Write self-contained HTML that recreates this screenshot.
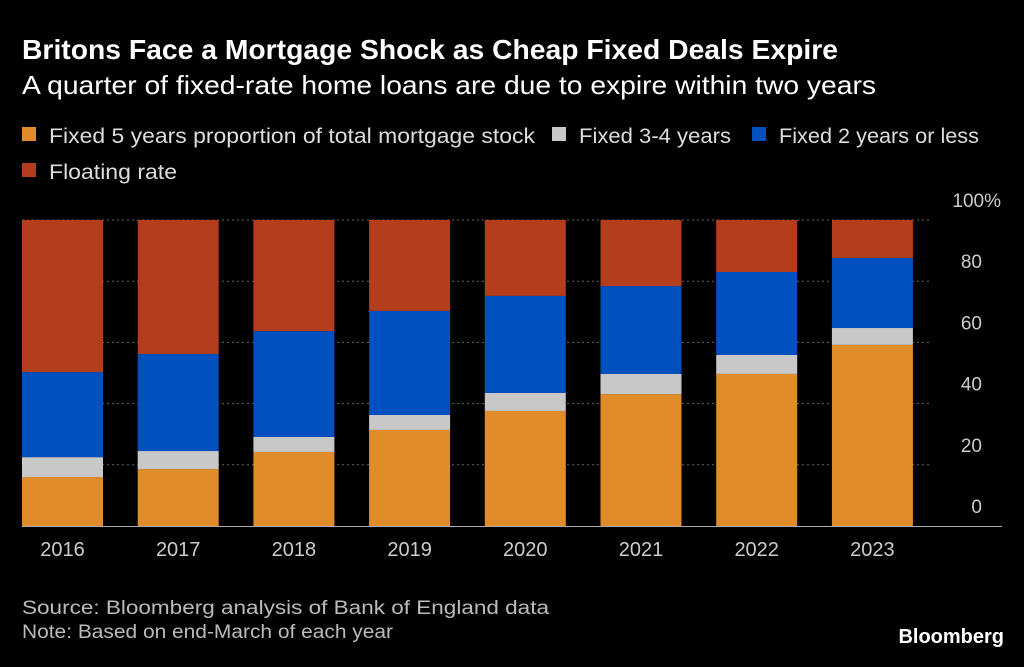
<!DOCTYPE html>
<html><head><meta charset="utf-8"><style>
body{margin:0;background:#000;width:1024px;height:662px;overflow:hidden;font-family:"Liberation Sans",sans-serif;color:#fff}
</style></head><body>
<svg width="1024" height="662" xmlns="http://www.w3.org/2000/svg">
<rect width="1024" height="662" fill="#000"/>
<text x="22" y="59" font-size="28" font-weight="bold" fill="#fff" textLength="816" lengthAdjust="spacingAndGlyphs">Britons Face a Mortgage Shock as Cheap Fixed Deals Expire</text>
<text x="22" y="94" font-size="26" fill="#fff" textLength="854" lengthAdjust="spacingAndGlyphs">A quarter of fixed-rate home loans are due to expire within two years</text>
<g font-size="21" fill="#ddd">
<rect x="22" y="127" width="14" height="14" fill="#e08c2a"/>
<text x="49" y="143" textLength="486" lengthAdjust="spacingAndGlyphs">Fixed 5 years proportion of total mortgage stock</text>
<rect x="552" y="127" width="14" height="14" fill="#c8c8c8"/>
<text x="579" y="143" textLength="152" lengthAdjust="spacingAndGlyphs">Fixed 3-4 years</text>
<rect x="752" y="127" width="14" height="14" fill="#0050c0"/>
<text x="779" y="143" textLength="200" lengthAdjust="spacingAndGlyphs">Fixed 2 years or less</text>
<rect x="22" y="163" width="14" height="14" fill="#b33d1d"/>
<text x="49" y="179" textLength="128" lengthAdjust="spacingAndGlyphs">Floating rate</text>
</g>
<g id="grid"></g><g id="bars"></g><g id="labels"></g>
<text x="22" y="614" font-size="19" fill="#bbb" textLength="527" lengthAdjust="spacingAndGlyphs">Source: Bloomberg analysis of Bank of England data</text>
<text x="22" y="638" font-size="19" fill="#bbb" textLength="371" lengthAdjust="spacingAndGlyphs">Note: Based on end-March of each year</text>
<text x="1004" y="643" font-size="20" font-weight="bold" fill="#fff" text-anchor="end">Bloomberg</text>
</svg>
<script>
const categories=["2016","2017","2018","2019","2020","2021","2022","2023"];
const fixed5=[16,18.6,24.2,31.4,37.6,43.1,49.7,59.2];
const fixed34=[6.5,5.9,4.9,4.9,5.9,6.6,6.2,5.5];
const fixed2=[27.8,31.7,34.6,34,31.7,28.7,27.1,22.9];
const floating=[49.7,43.8,36.3,29.7,24.8,21.6,17,12.4];
const ticks=[0,20,40,60,80,100];
const NS="http://www.w3.org/2000/svg";
const y=v=>526-v*3.06;
const x=i=>22+i*115.7;
const bw=81;
function mk(t,a,p){const e=document.createElementNS(NS,t);for(const k in a)e.setAttribute(k,a[k]);p.appendChild(e);return e;}
const grid=document.getElementById('grid'),bars=document.getElementById('bars'),labels=document.getElementById('labels');
ticks.forEach(t=>{
  if(t>0){const l=mk('line',{x1:22,x2:930,y1:y(t),y2:y(t),stroke:'#666','stroke-dasharray':'2,3'},grid);
  
  }
  const tx=mk('text',{x:t===100?1001:982,y:y(t)-13,'font-size':19,fill:'#ccc','text-anchor':'end'},labels);
  tx.textContent=t===100?'100%':t;
  
  
});
const series=[[fixed5,'#e08c2a','fixed5'],[fixed34,'#c8c8c8','fixed34'],[fixed2,'#0050c0','fixed2'],[floating,'#b33d1d','floating']];
categories.forEach((c,i)=>{
  let acc=0;
  series.forEach(([arr,col,nm])=>{
    const v=arr[i];
    const r=mk('rect',{x:x(i),y:y(acc+v),width:bw,height:y(acc)-y(acc+v),fill:col},bars);
    
    
    acc+=v;
  });
  const t=mk('text',{x:x(i)+bw/2,y:556,'font-size':20,fill:'#ccc','text-anchor':'middle'},labels);
  t.textContent=c;
  
  
});
const base=mk('line',{x1:22,x2:1002,y1:526.5,y2:526.5,stroke:'#aaa','stroke-width':1},labels);


</script>
</body></html>
